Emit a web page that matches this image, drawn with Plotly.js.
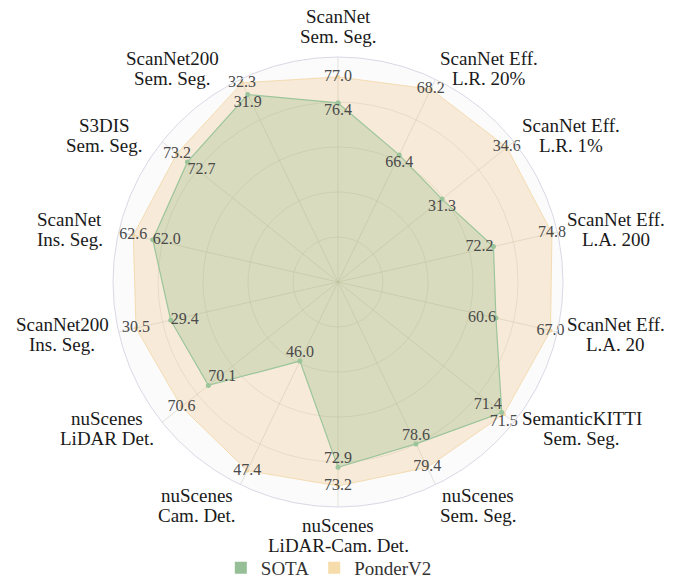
<!DOCTYPE html>
<html>
<head>
<meta charset="utf-8">
<script src="https://cdn.plot.ly/plotly-3.0.1.min.js"></script>
<style>html,body{margin:0;padding:0;background:#fff;}#chart{width:678px;height:587px;}</style>
</head>
<body>
<div id="chart"></div>
<script>
// Categories (clockwise from top)
const categories = [
  "ScanNet<br>Sem. Seg.",
  "ScanNet Eff.<br>L.R. 20%",
  "ScanNet Eff.<br>L.R. 1%",
  "ScanNet Eff.<br>L.A. 200",
  "ScanNet Eff.<br>L.A. 20",
  "SemanticKITTI<br>Sem. Seg.",
  "nuScenes<br>Sem. Seg.",
  "nuScenes<br>LiDAR-Cam. Det.",
  "nuScenes<br>Cam. Det.",
  "nuScenes<br>LiDAR Det.",
  "ScanNet200<br>Ins. Seg.",
  "ScanNet<br>Ins. Seg.",
  "S3DIS<br>Sem. Seg.",
  "ScanNet200<br>Sem. Seg."
];
const sota     = [76.4, 66.4, 31.3, 72.2, 60.6, 71.4, 78.6, 72.9, 46.0, 70.1, 29.4, 62.0, 72.7, 31.9];
const ponderV2 = [77.0, 68.2, 34.6, 74.8, 67.0, 71.5, 79.4, 73.2, 47.4, 70.6, 30.5, 62.6, 73.2, 32.3];
// Per-axis value range (center -> outer circle)
const axisMin  = [72.27, 62.92, 26.01, 65.29, 42.09, 63.02, 73.09, 69.91, 44.99, 67.69, 24.10, 56.30, 65.51, 25.50];
const axisMax  = [77.46, 68.47, 34.96, 75.04, 67.80, 72.02, 79.99, 73.54, 47.58, 70.96, 31.05, 63.05, 73.91, 32.42];

const norm = (vals) => vals.map((v, i) => (v - axisMin[i]) / (axisMax[i] - axisMin[i]));
const close = (arr) => arr.concat([arr[0]]);
const fmt = (vals) => vals.map(v => v.toFixed(1));

const sotaPos = ["bottom center","bottom center","bottom center","middle left","middle left","top left",
  "top center","top center","top center","top right","middle right","middle right","bottom right","bottom center"];
const ponderPos = ["middle center","middle center","middle center","middle center","middle center","bottom center",
  "middle center","middle center","middle center","middle center","middle center","middle center","middle center","middle center"];

const serif = "Liberation Serif, Times New Roman, serif";
const green = "#9cc59c";
const orange = "#f3d6a4";

const W = 678, H = 587;
const domX = [113 / W, 563 / W], domY = [80 / H, 530 / H];

// Category labels: placed just outside the polar frame along each axis direction
const labelSize = 19, lineGap = 20;
// small per-label nudges (px) to follow the reference's label placement
const labelShiftX = [0, 0, 0, 0, 0, 0, 0, 0, 0, 0, 0, -6, -12, -17];
const labelShiftY = [0, -2, 0, 0, 0, 0, -6, 0, -6, 0, 0, 0, 0, -2];
const ctx = document.createElement("canvas").getContext("2d");
ctx.font = labelSize + 'px "Liberation Serif"';
const cx = (domX[0] + domX[1]) / 2 * W;
const cy = (1 - (domY[0] + domY[1]) / 2) * H;
const radiusPx = (domX[1] - domX[0]) * W / 2;
const labelR = radiusPx + 10;
const annotations = [];
categories.forEach((c, i) => {
  const th = i * 2 * Math.PI / categories.length;
  const s = Math.sin(th), co = Math.cos(th);
  const px = cx + labelR * s + labelShiftX[i], py = cy - labelR * co + labelShiftY[i];
  const lines = c.split("<br>");
  const bw = Math.max(...lines.map(l => ctx.measureText(l).width));
  const bcx = s > 0.1 ? px + bw / 2 : (s < -0.1 ? px - bw / 2 : px);
  const n = lines.length;
  let firstY;
  if (co > 0.95) firstY = py - 10 - (n - 1) * lineGap;      // above the frame
  else if (co < -0.85) firstY = py + 8;                     // below the frame
  else firstY = py - (n - 1) * lineGap / 2;                 // beside the frame
  lines.forEach((l, j) => {
    const ly = firstY + j * lineGap;
    annotations.push({
      xref: "paper", yref: "paper", x: bcx / W, y: 1 - ly / H,
      text: l, showarrow: false, xanchor: "center", yanchor: "middle",
      font: {family: serif, size: labelSize, color: "#1a1a1a"}
    });
  });
});

const traces = [
  {
    type: "scatterpolar", r: close(norm(ponderV2)), theta: close(categories),
    mode: "lines+markers", fill: "toself",
    fillcolor: "rgba(240,200,140,0.32)",
    line: {color: "rgba(243,214,164,0.8)", width: 1},
    marker: {color: orange, size: 4},
    showlegend: false, hoverinfo: "skip"
  },
  {
    type: "scatterpolar", r: close(norm(sota)), theta: close(categories),
    mode: "lines+markers", fill: "toself",
    fillcolor: "rgba(120,170,110,0.24)",
    line: {color: green, width: 1.2},
    marker: {color: green, size: 5},
    showlegend: false, hoverinfo: "skip"
  },
  {
    type: "scatterpolar", r: norm(sota), theta: categories, mode: "text",
    text: fmt(sota), textposition: sotaPos,
    textfont: {family: serif, size: 16, color: "#4a4a4a"},
    showlegend: false, hoverinfo: "skip"
  },
  {
    type: "scatterpolar", r: norm(ponderV2), theta: categories, mode: "text",
    text: fmt(ponderV2), textposition: ponderPos,
    textfont: {family: serif, size: 16, color: "#4a4a4a"},
    showlegend: false, hoverinfo: "skip"
  },
  {
    type: "scatterpolar", r: [null], theta: [categories[0]], mode: "markers", name: "SOTA",
    marker: {symbol: "square", size: 12, color: "#97bf97"}, showlegend: true
  },
  {
    type: "scatterpolar", r: [null], theta: [categories[0]], mode: "markers", name: "PonderV2",
    marker: {symbol: "square", size: 12, color: "#f6dcab"}, showlegend: true
  }
];

const layout = {
  width: W, height: H,
  margin: {l: 0, r: 0, t: 0, b: 0},
  paper_bgcolor: "#ffffff",
  font: {family: serif, color: "#222"},
  polar: {
    domain: {x: domX, y: domY},
    bgcolor: "#fbfbfc",
    radialaxis: {
      range: [0, 1], tickvals: [0.2, 0.4, 0.6, 0.8], showticklabels: false,
      showline: false, ticks: "", gridcolor: "rgba(200,200,195,0.45)", gridwidth: 1
    },
    angularaxis: {
      rotation: 90, direction: "clockwise", type: "category",
      categoryarray: categories, showticklabels: false, ticks: "",
      showline: true, linecolor: "#d9d9e6", linewidth: 1,
      gridcolor: "rgba(190,190,180,0.45)", gridwidth: 1
    }
  },
  annotations: annotations,
  legend: {
    orientation: "h", x: 0.485, xanchor: "center", y: 0, yanchor: "bottom",
    font: {family: serif, size: 19, color: "#333"},
    bgcolor: "rgba(0,0,0,0)"
  },
  showlegend: true
};

Plotly.newPlot("chart", traces, layout, {displayModeBar: false, staticPlot: true});
</script>
</body>
</html>
